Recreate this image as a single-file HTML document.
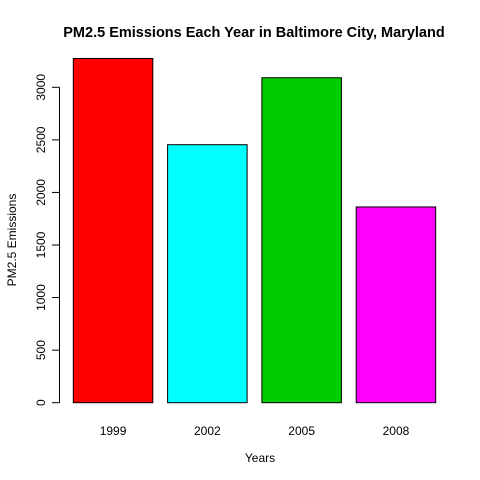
<!DOCTYPE html>
<html><head><meta charset="utf-8"><style>
body{margin:0;background:#fff}
svg{display:block;font-family:"Liberation Sans",Arial,sans-serif}
</style></head><body>
<svg id="chart" width="480" height="480">
<text x="254" y="37" text-anchor="middle" font-weight="bold" font-size="14.5">PM2.5 Emissions Each Year in Baltimore City, Maryland</text>
<text x="260" y="462" text-anchor="middle" font-size="12">Years</text>
<text transform="translate(16,240) rotate(-90)" text-anchor="middle" font-size="12">PM2.5 Emissions</text>
<g id="bars"></g><g id="yaxis"></g><g id="xlabels"></g>
</svg>
<script>
const categories=["1999","2002","2005","2008"];
const values=[3274,2454,3091,1862];
const colors=["#ff0000","#00ffff","#00cd00","#ff00ff"];
const yTicks=[0,500,1000,1500,2000,2500,3000];
const ns="http://www.w3.org/2000/svg";
const y0=402.7,pxPer=(402.7-87.3)/3000;
function yScale(v){return y0-v*pxPer;}
function xScale(i){return 73.3+i*94.3;}
const bw=79.5;
const bars=document.getElementById('bars');
values.forEach((v,i)=>{
 const r=document.createElementNS(ns,'rect');
 r.setAttribute('x',xScale(i));r.setAttribute('y',yScale(v));
 r.setAttribute('width',bw);r.setAttribute('height',y0-yScale(v));
 r.setAttribute('fill',colors[i]);r.setAttribute('stroke','#000');r.setAttribute('stroke-width','1');
 
 
 bars.appendChild(r);
 const t=document.createElementNS(ns,'text');
 t.setAttribute('x',xScale(i)+bw/2);t.setAttribute('y',435);
 t.setAttribute('text-anchor','middle');t.setAttribute('font-size','12');
 t.textContent=categories[i];
 
 
 document.getElementById('xlabels').appendChild(t);
});
const ya=document.getElementById('yaxis');
const l=document.createElementNS(ns,'line');
l.setAttribute('x1',59.5);l.setAttribute('x2',59.5);
l.setAttribute('y1',yScale(yTicks[0]));l.setAttribute('y2',yScale(yTicks[yTicks.length-1]));
l.setAttribute('stroke','#000');


ya.appendChild(l);
yTicks.forEach(v=>{
 const tk=document.createElementNS(ns,'line');
 tk.setAttribute('x1',52);tk.setAttribute('x2',59.5);
 tk.setAttribute('y1',yScale(v));tk.setAttribute('y2',yScale(v));
 tk.setAttribute('stroke','#000');
 
 
 ya.appendChild(tk);
 const t=document.createElementNS(ns,'text');
 t.setAttribute('transform','translate(45,'+yScale(v)+') rotate(-90)');
 t.setAttribute('text-anchor','middle');t.setAttribute('font-size','12');
 t.textContent=v;
 
 
 ya.appendChild(t);
});
</script>
</body></html>
